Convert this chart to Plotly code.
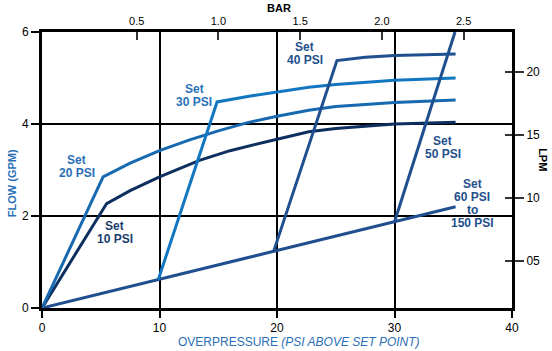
import plotly.graph_objects as go

# ---------------- data ----------------
set10_x = [0, 5.5, 7.5, 10, 13.4, 16, 20, 22.7, 25, 30, 35.2]
set10_y = [0, 2.27, 2.55, 2.85, 3.21, 3.42, 3.67, 3.83, 3.90, 4.00, 4.04]

set20_x = [0, 5.2, 7.5, 10, 12.5, 15, 17.5, 20, 22.7, 25, 30, 35.2]
set20_y = [0, 2.85, 3.15, 3.42, 3.65, 3.85, 4.03, 4.17, 4.30, 4.38, 4.47, 4.52]

set30_x = [9.9, 14.9, 17.5, 20, 22.7, 25, 30, 35.2]
set30_y = [0.62, 4.48, 4.60, 4.70, 4.80, 4.86, 4.95, 5.00]

set40_x = [19.7, 25.1, 27.5, 30, 35.2]
set40_y = [1.22, 5.38, 5.45, 5.49, 5.52]

set50_x = [30.0, 35.15]
set50_y = [1.87, 6.0]

set60_x = [0, 35.2]
set60_y = [0, 2.2]

x_ticks = [0, 10, 20, 30, 40]
y_ticks = [0, 2, 4, 6]
bar_ticks = [0.5, 1.0, 1.5, 2.0, 2.5]
bar_labels = ["0.5", "1.0", "1.5", "2.0", "2.5"]
lpm_ticks = [5, 10, 15, 20]
lpm_labels = ["05", "10", "15", "20"]

labels = [
    (["Set", "20 PSI"], 2.97, 3.08, "#2a6fb6"),
    (["Set", "10 PSI"], 6.19, 1.65, "#1b3d6e"),
    (["Set", "30 PSI"], 12.97, 4.63, "#2a72b8"),
    (["Set", "40 PSI"], 22.37, 5.54, "#234f8d"),
    (["Set", "50 PSI"], 34.1, 3.49, "#234f8d"),
    (["Set", "60 PSI", "to", "150 PSI"], 36.6, 2.28, "#234f8d"),
]

# ---------------- figure ----------------
FONT = "Liberation Sans, Arial, sans-serif"
fig = go.Figure()

series = [
    (set60_x, set60_y, "#1f4f8f"),
    (set10_x, set10_y, "#0d2f5f"),
    (set20_x, set20_y, "#1769b0"),
    (set30_x, set30_y, "#1277c0"),
    (set40_x, set40_y, "#1f4f8f"),
    (set50_x, set50_y, "#1f4f8f"),
]
for xs, ys, col in series:
    fig.add_trace(go.Scatter(x=xs, y=ys, mode="lines",
                             line=dict(color=col, width=3),
                             showlegend=False, hoverinfo="skip"))

# invisible traces to activate secondary axes
fig.add_trace(go.Scatter(x=[None], y=[None], xaxis="x2", yaxis="y",
                         showlegend=False))
fig.add_trace(go.Scatter(x=[None], y=[None], xaxis="x", yaxis="y2",
                         showlegend=False))
fig.add_trace(go.Scatter(x=[None], y=[None], xaxis="x", yaxis="y3",
                         showlegend=False))

line_spacing = 13
for lines, lx, ly, col in labels:
    n = len(lines)
    for i, t in enumerate(lines):
        fig.add_annotation(x=lx, y=ly, xref="x", yref="y", text=t,
                           showarrow=False, xanchor="center", yanchor="middle",
                           height=12,
                           yshift=(n - 1) / 2 * line_spacing - i * line_spacing,
                           font=dict(family=FONT, size=12, color=col,
                                     weight="bold"))

fig.update_layout(
    width=552, height=351,
    margin=dict(l=42, r=38, t=32, b=43),
    paper_bgcolor="white", plot_bgcolor="white",
    font=dict(family=FONT, size=12, color="black"),
    xaxis=dict(range=[0, 40], tickvals=x_ticks, showgrid=True,
               gridcolor="black", gridwidth=2, zeroline=False,
               showline=True, linecolor="black", linewidth=3,
               ticks="outside", ticklen=7, tickwidth=2, tickcolor="black",
               tickfont=dict(size=12)),
    xaxis2=dict(range=[-0.079, 2.796], overlaying="x", side="top",
                tickvals=bar_ticks, ticktext=bar_labels, showgrid=False,
                zeroline=False, showline=True, linecolor="black", linewidth=3,
                ticks="inside", ticklen=8, tickwidth=2, tickcolor="#333",
                tickfont=dict(size=11)),
    yaxis=dict(range=[0, 6], tickvals=y_ticks, showgrid=True,
               gridcolor="black", gridwidth=2, zeroline=False,
               showline=True, linecolor="black", linewidth=3,
               ticks="outside", ticklen=8, tickwidth=2, tickcolor="black",
               tickfont=dict(size=12)),
    yaxis2=dict(range=[1.26, 23.2], overlaying="y", side="right",
                tickvals=lpm_ticks, ticktext=lpm_labels, showgrid=False,
                zeroline=False, showline=True, linecolor="black", linewidth=3,
                ticks="outside", ticklen=9, tickwidth=2, tickcolor="#333",
                tickfont=dict(size=12)),
    yaxis3=dict(range=[1.26, 23.2], overlaying="y", side="right",
                tickvals=lpm_ticks, showticklabels=False, showgrid=False,
                zeroline=False, showline=False,
                ticks="inside", ticklen=7, tickwidth=2, tickcolor="#333"),
)

# axis titles
title_specs = [
    ("FLOW (GPM)", 12, 183, -90, "#2a6fb6", 11, "bold"),
    ("OVERPRESSURE <i>(PSI ABOVE SET POINT)</i>", 300, 342, 0, "#2a6fb6", 12,
     "normal"),
    ("BAR", 280, 8, 0, "black", 11, "bold"),
    ("LPM", 545, 160, 90, "black", 11, "bold"),
]
for txt, px, py, ang, col, sz, wt in title_specs:
    fig.add_annotation(xref="paper", yref="paper", x=(px - 42) / 472,
                       y=(308 - py) / 276, text=txt, textangle=ang,
                       showarrow=False, xanchor="center", yanchor="middle",
                       font=dict(family=FONT, size=sz, color=col, weight=wt))

fig.write_html("out.html")
